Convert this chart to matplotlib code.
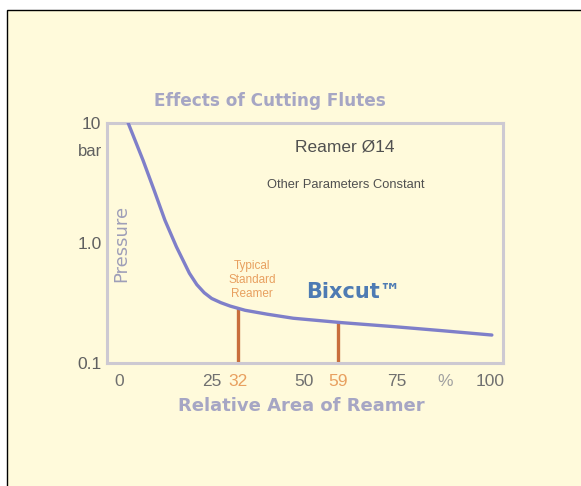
import numpy as np
import matplotlib.pyplot as plt
from matplotlib.patches import Rectangle

# curve: pressure vs relative area of reamer
rel_area = [2.5, 6.5, 9.5, 12.4, 15.5, 19, 21, 23, 25, 27.5, 30, 34, 40, 47, 60, 74, 87, 100.5]
pressure = [10, 4.9, 2.75, 1.55, 0.93, 0.56, 0.45, 0.385, 0.345, 0.318, 0.298, 0.275, 0.255, 0.236, 0.217, 0.201, 0.186, 0.171]

# marked reamers (standard and Bixcut)
marked_area = [32, 59]

x_ticks = [0, 25, 32, 50, 59, 75, 88, 100]
x_labels = ['0', '25', '32', '50', '59', '75', '%', '100']
x_label_colors = ['#707070', '#707070', '#e8a060', '#707070', '#e8a060', '#707070', '#a0a0a0', '#707070']

y_ticks = [0.1, 1.0, 10]
y_labels = ['0.1', '1.0', '10']

cream = '#fffadb'
lavender = '#a6a6c4'
narrow = ['Liberation Sans Narrow', 'Liberation Sans']

W, H = 581, 486
fig = plt.figure(figsize=(W / 100, H / 100), dpi=100, facecolor='white')

# panel with black border
fig.patches.append(Rectangle((7 / W, -0.1), 1.2, (H - 10) / H + 0.1,
                             transform=fig.transFigure, facecolor=cream,
                             edgecolor='black', linewidth=1.0, zorder=-10))

ax = fig.add_axes([107 / W, (H - 363) / H, (503 - 107) / W, (363 - 123) / H])
ax.set_facecolor(cream)
ax.set_yscale('log')
ax.set_xlim(-3.2, 103.5)
ax.set_ylim(0.1, 10)

for s in ax.spines.values():
    s.set_color('#cdc9d2')
    s.set_linewidth(2.2)

ax.plot(rel_area, pressure, color='#7f7fc9', linewidth=2.4, solid_capstyle='round', zorder=3)

# vertical markers up to the curve
log_p = np.log10(pressure)
for xa in marked_area:
    top = 10 ** np.interp(xa, rel_area, log_p)
    ax.vlines(xa, 0.1, top, color='#c86e3c', linewidth=2.4, zorder=2)

ax.set_xticks(x_ticks)
ax.set_xticklabels(x_labels, fontsize=12.5, family=narrow)
for lbl, c in zip(ax.get_xticklabels(), x_label_colors):
    lbl.set_color(c)
ax.tick_params(axis='x', length=0, pad=8)

ax.set_yticks(y_ticks)
ax.set_yticklabels(y_labels, fontsize=12.5, family=narrow, color='#606060')
ax.yaxis.set_minor_locator(plt.NullLocator())
ax.tick_params(axis='y', length=0, pad=4)

ax.text(-0.012, 0.88, 'bar', transform=ax.transAxes, ha='right', va='center',
        fontsize=12, family=narrow, color='#606060')

ax.text(0.036, 0.5, 'Pressure', transform=ax.transAxes, rotation=90,
        ha='center', va='center', fontsize=13, color='#9e9eb8')

fig.text(270 / W, (H - 101) / H, 'Effects of Cutting Flutes', ha='center', va='center',
         fontsize=12.2, fontweight='bold', color=lavender)
fig.text(301 / W, (H - 406) / H, 'Relative Area of Reamer', ha='center', va='center',
         fontsize=13, fontweight='bold', color=lavender)

fig.text(345 / W, (H - 147) / H, 'Reamer Ø14', ha='center', va='center',
         fontsize=12.5, family=narrow, color='#505050')
fig.text(346 / W, (H - 185) / H, 'Other Parameters Constant', ha='center', va='center',
         fontsize=9.3, family=narrow, color='#505050')

fig.text(252 / W, (H - 280) / H, 'Typical\nStandard\nReamer', ha='center', va='center',
         fontsize=8.5, family=narrow, color='#e8a060', linespacing=1.25)

fig.text(306 / W, (H - 292) / H, 'Bixcut™', ha='left', va='center',
         fontsize=15, fontweight='bold', color='#4e7bb3')

fig.savefig('out.png', dpi=100, facecolor=fig.get_facecolor())
